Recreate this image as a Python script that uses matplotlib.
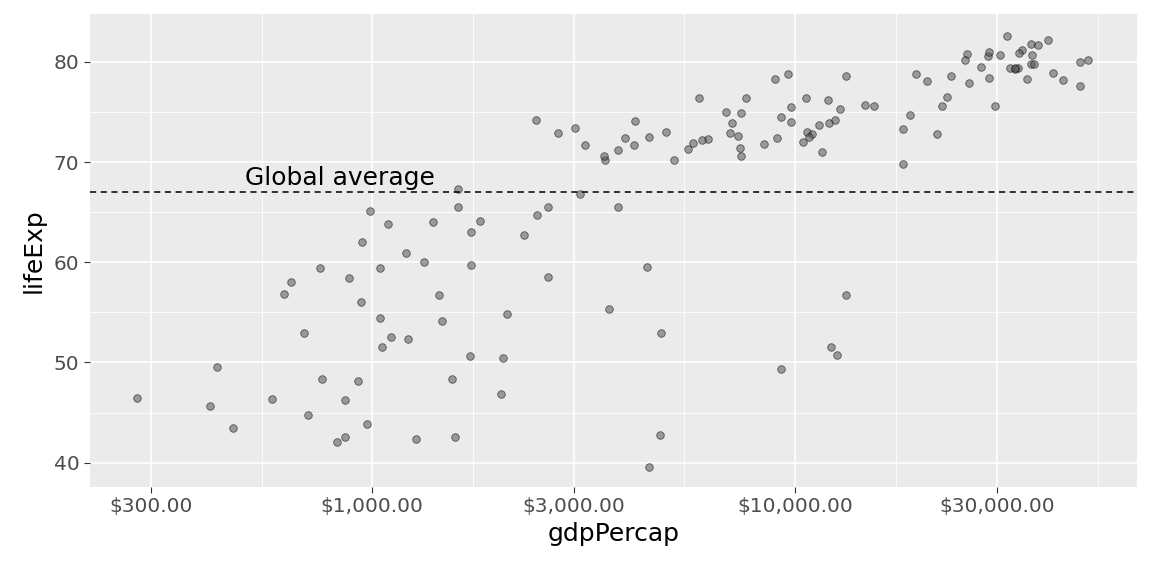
import matplotlib.pyplot as plt
import matplotlib.ticker as mticks
import numpy as np

# gapminder 2007: gdpPercap, lifeExp
gdp = [974.58, 5937.03, 6223.37, 4797.23, 12779.38, 34435.37, 36126.49, 29796.05, 1391.25, 33692.6,
       1441.28, 3822.14, 7446.30, 12569.85, 9065.80, 10680.79, 1217.03, 430.07, 1713.78, 2042.10,
       36319.24, 706.02, 1704.06, 13171.64, 4959.11, 7006.58, 986.15, 277.55, 3632.56, 9645.06,
       1544.75, 14619.22, 8948.10, 22833.31, 35278.42, 2082.48, 6025.37, 6873.26, 5581.18, 5728.35,
       12154.09, 641.37, 690.81, 33207.08, 30470.02, 13206.48, 752.75, 32170.37, 1327.61, 27538.41,
       5186.05, 942.65, 579.23, 1201.64, 3548.33, 39724.98, 18008.94, 36180.79, 2452.21, 3540.65,
       11605.71, 4471.06, 40676.0, 25523.28, 28569.72, 7320.88, 31656.07, 4519.46, 1463.25, 1593.07,
       23348.14, 47306.99, 10461.06, 1569.33, 414.51, 12057.50, 1044.77, 759.35, 12451.66, 1042.58,
       1803.15, 10956.99, 11977.57, 3095.77, 9253.90, 3820.18, 823.69, 944.0, 4811.06, 1091.36,
       36797.93, 25185.01, 2749.32, 619.68, 2013.98, 49357.19, 22316.19, 2605.95, 9809.19, 4172.84,
       7408.91, 3190.48, 15389.92, 20509.65, 19328.71, 7670.12, 10808.48, 863.09, 1598.44, 21654.83,
       1712.47, 9786.53, 862.54, 47143.18, 18678.31, 25768.26, 926.14, 9269.66, 28821.06, 3970.10,
       2602.39, 4513.48, 33859.75, 37506.42, 4184.55, 28718.28, 1107.48, 7458.40, 882.97, 18008.51,
       7092.92, 8458.28, 1056.38, 33203.26, 42951.65, 10611.46, 11415.81, 2441.58, 3025.35, 2280.77,
       1271.21, 469.71]
life = [43.828, 76.423, 72.301, 42.731, 75.32, 81.235, 79.829, 75.635, 64.062, 79.441,
        56.728, 65.554, 74.852, 50.728, 72.39, 73.005, 52.295, 49.58, 59.723, 50.43,
        80.653, 44.741, 50.651, 78.553, 72.961, 72.889, 65.152, 46.462, 55.322, 78.782,
        48.328, 75.748, 78.273, 76.486, 78.332, 54.791, 72.235, 74.994, 71.338, 71.878,
        51.579, 58.04, 52.947, 79.313, 80.657, 56.735, 59.448, 79.406, 60.022, 79.483,
        70.259, 56.007, 46.388, 60.916, 70.198, 82.208, 73.338, 81.757, 64.698, 70.65,
        70.964, 59.545, 78.885, 80.745, 80.546, 72.567, 82.603, 72.535, 54.11, 67.297,
        78.623, 77.588, 71.993, 42.592, 45.678, 73.952, 59.443, 48.303, 74.241, 54.467,
        64.164, 72.801, 76.195, 66.803, 74.543, 71.164, 42.082, 62.069, 52.906, 63.785,
        79.762, 80.204, 72.899, 56.867, 46.859, 80.196, 75.64, 65.483, 75.537, 71.752,
        71.421, 71.688, 75.563, 78.098, 78.746, 76.442, 72.476, 46.242, 65.528, 72.777,
        63.062, 74.002, 42.568, 79.972, 74.663, 77.926, 48.159, 49.339, 80.941, 72.396,
        58.556, 39.613, 80.884, 81.701, 74.143, 78.4, 52.517, 70.616, 58.42, 69.819,
        73.923, 71.777, 51.542, 79.425, 78.242, 76.384, 73.747, 74.249, 73.422, 62.698,
        42.384, 43.487]
x_ticks = [300, 1000, 3000, 10000, 30000]
y_ticks = [40, 50, 60, 70, 80]
avg_life = 67.0

fig, ax = plt.subplots(figsize=(11.52, 5.76), dpi=100)
fig.subplots_adjust(left=0.078, right=0.987, top=0.976, bottom=0.155)
ax.set_facecolor('#EBEBEB')
for s in ax.spines.values():
    s.set_visible(False)

ax.set_xscale('log')
ax.set_xlim(215, 64400)
ax.set_ylim(37.6, 84.8)

ax.xaxis.set_major_locator(mticks.FixedLocator(x_ticks))
ax.xaxis.set_major_formatter(mticks.FixedFormatter(['$%s.00' % format(t, ',') for t in x_ticks]))
lx = np.log10(x_ticks)
mids = list((lx[:-1] + lx[1:]) / 2)
mids = [lx[0] - (lx[1] - lx[0]) / 2] + mids + [lx[-1] + (lx[-1] - lx[-2]) / 2]
ax.xaxis.set_minor_locator(mticks.FixedLocator([10 ** m for m in mids]))
ax.xaxis.set_minor_formatter(mticks.NullFormatter())
ax.yaxis.set_major_locator(mticks.FixedLocator(y_ticks))
ax.yaxis.set_minor_locator(mticks.FixedLocator([45, 55, 65, 75]))

ax.grid(which='major', color='white', linewidth=1.2)
ax.grid(which='minor', color='white', linewidth=0.6)
ax.set_axisbelow(True)
ax.tick_params(which='both', length=0)
ax.tick_params(which='major', length=4, color='#333333', labelsize=14.5, labelcolor='#4D4D4D')

ax.scatter(gdp, life, s=30, facecolor='#555555', edgecolor='black', linewidths=0.6, alpha=0.55, zorder=3)
ax.axhline(avg_life, color='black', linestyle='--', linewidth=1.1, dashes=(4, 3), zorder=4)
ax.text(500, avg_life + 0.2, 'Global average', fontsize=18, va='bottom', zorder=5)

ax.set_xlabel('gdpPercap', fontsize=18, labelpad=4)
ax.set_ylabel('lifeExp', fontsize=18, labelpad=6)

plt.savefig('out.png')
